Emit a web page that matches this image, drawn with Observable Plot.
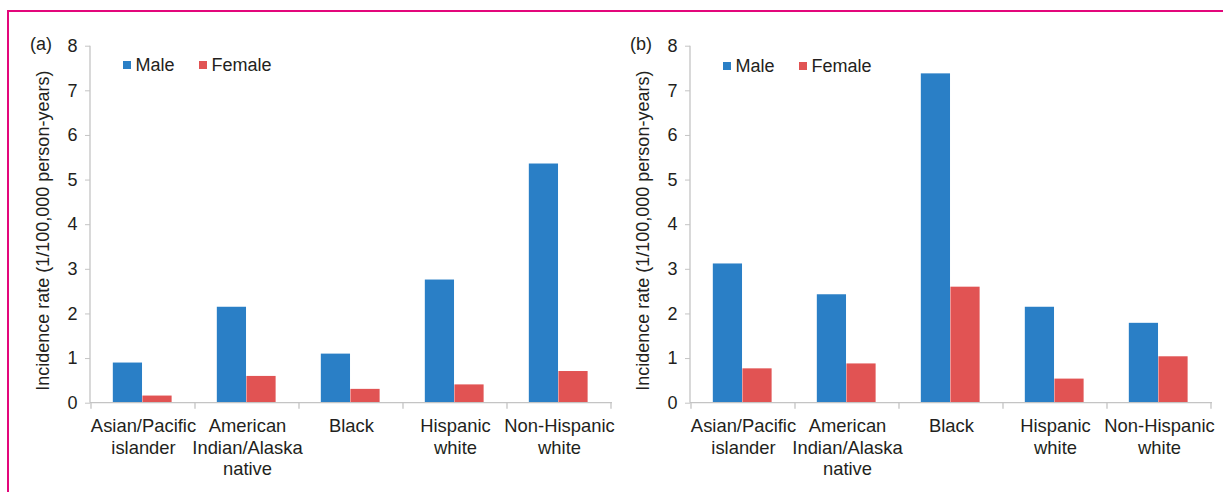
<!DOCTYPE html>
<html><head><meta charset="utf-8">
<script src="https://cdn.jsdelivr.net/npm/d3@7"></script>
<script src="https://cdn.jsdelivr.net/npm/@observablehq/plot@0.6"></script>
<style>
html,body{margin:0;padding:0;background:#fff;overflow:hidden;}
#wrap{position:relative;width:1224px;height:492px;overflow:hidden;font-family:"Liberation Sans",Arial,sans-serif;color:#231f20;}
.rule-top{position:absolute;left:7px;top:10px;width:1216px;height:2px;background:#e3077b;}
.rule-left{position:absolute;left:7px;top:10px;width:2px;height:482px;background:#e3077b;}
.panel{position:absolute;top:0;width:622px;height:492px;}
.tag{position:absolute;font-size:18px;line-height:18px;}
.legend{position:absolute;display:flex;align-items:center;font-size:18px;line-height:18px;}
.legend .item{display:flex;align-items:center;margin-right:24px;}
.legend .sw{display:inline-block;width:8px;height:8px;margin-right:5px;}
</style></head>
<body><div id="wrap"><div class="rule-top"></div><div class="rule-left"></div></div>
<script>
const categories = ["Asian/Pacific\nislander", "American\nIndian/Alaska\nnative", "Black", "Hispanic\nwhite", "Non-Hispanic\nwhite"];
const sexes = ["Male", "Female"];
const colors = ["#2a7fc6", "#e15353"];
const maleA = [0.9, 2.15, 1.1, 2.76, 5.36];
const femaleA = [0.16, 0.6, 0.31, 0.41, 0.71];
const maleB = [3.12, 2.43, 7.38, 2.15, 1.79];
const femaleB = [0.77, 0.88, 2.6, 0.54, 1.04];
const yTicks = [0, 1, 2, 3, 4, 5, 6, 7, 8];
const panelTags = ["(a)", "(b)"];
const yTitle = "Incidence rate (1/100,000 person-years)";

const gray = "#c4c4c4";
const ink = "#231f20";
const font = "'Liberation Sans', Arial, sans-serif";

function axisLines(index, scales) {
  const x = scales.x, y = scales.y;
  const [xa, xb] = x.range();
  const bw = typeof x.bandwidth === "function" ? x.bandwidth() : x.bandwidth;
  const [d0, d1] = y.domain();
  const y0 = y(d0), yTop = y(d1);
  const g = d3.create("svg:g").attr("stroke", gray).attr("stroke-width", 1.3).attr("fill", "none");
  g.append("line").attr("x1", xa).attr("x2", xa).attr("y1", yTop).attr("y2", y0);
  g.append("line").attr("x1", xa).attr("x2", xb).attr("y1", y0).attr("y2", y0);
  const bounds = categories.map(c => x(c)).concat([x(categories[categories.length - 1]) + bw]);
  for (const b of bounds) g.append("line").attr("x1", b).attr("x2", b).attr("y1", y0).attr("y2", y0 + 6);
  return g.node();
}

function panel(male, female, tag, left, legendTop) {
  const rows = categories.flatMap((c, i) => [
    {category: c, sex: sexes[0], value: male[i]},
    {category: c, sex: sexes[1], value: female[i]}
  ]);
  const W = 622, H = 492, ml = 90, mr = 10, mt = 45.7, mb = 89.3;
  const bw = (W - ml - mr) / categories.length;
  const off = bw * 0.209, barW = bw * 0.2835;
  const svg = Plot.plot({
    width: W, height: H,
    marginLeft: ml, marginRight: mr, marginTop: mt, marginBottom: mb,
    style: {background: "transparent", overflow: "visible", fontFamily: font, fontSize: "18px", color: ink, maxWidth: "none"},
    x: {domain: categories, paddingInner: 0, paddingOuter: 0},
    y: {domain: [0, 8]},
    color: {domain: sexes, range: colors},
    marks: [
      Plot.barY(rows.filter(d => d.sex === sexes[0]), {x: "category", y: "value", fill: "sex", insetLeft: off, insetRight: bw - off - barW}),
      Plot.barY(rows.filter(d => d.sex === sexes[1]), {x: "category", y: "value", fill: "sex", insetLeft: off + barW, insetRight: bw - off - 2 * barW}),
      axisLines,
      Plot.axisY({ticks: yTicks, tickSize: 5, tickPadding: 8, stroke: gray, fill: ink, fontSize: 18, tickFormat: d => String(d), label: null}),
      Plot.axisX({tickSize: 0, tickPadding: 14, label: null, fill: ink, fontSize: 18.4, lineHeight: 1.16}),
      Plot.text([yTitle], {frameAnchor: "left", textAnchor: "middle", rotate: -90, lineAnchor: "top", dx: -54, dy: 6, fontSize: 18, fill: ink})
    ]
  });
  const holder = document.createElement("div");
  holder.className = "panel";
  holder.style.left = left + "px";
  holder.appendChild(svg);
  const t = document.createElement("div");
  t.className = "tag";
  t.textContent = tag;
  t.style.left = "30px"; t.style.top = "35px";
  holder.appendChild(t);
  const lg = document.createElement("div");
  lg.className = "legend";
  lg.style.left = "122.6px"; lg.style.top = legendTop + "px";
  sexes.forEach((s, i) => {
    const it = document.createElement("span"); it.className = "item";
    const sw = document.createElement("span"); sw.className = "sw"; sw.style.background = colors[i];
    it.appendChild(sw); it.appendChild(document.createTextNode(s));
    lg.appendChild(it);
  });
  holder.appendChild(lg);
  document.getElementById("wrap").appendChild(holder);
}

panel(maleA, femaleA, panelTags[0], 0, 55.8);
panel(maleB, femaleB, panelTags[1], 600, 57.3);
</script>
</body></html>
